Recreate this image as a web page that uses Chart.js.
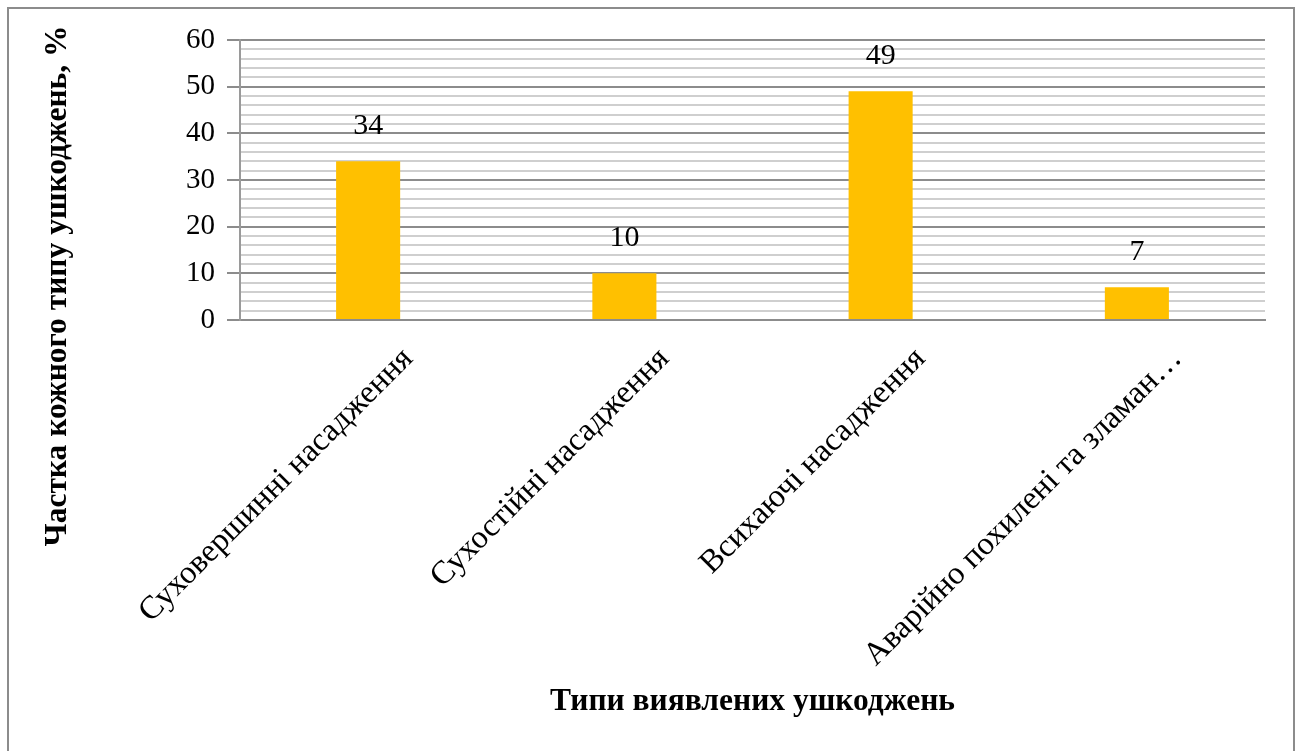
<!DOCTYPE html>
<html>
<head>
<meta charset="utf-8">
<script src="https://cdn.jsdelivr.net/npm/chart.js@4"></script>
<style>
  html, body { margin: 0; padding: 0; background: #fff; }
  #wrap { width: 1298px; height: 751px; }
</style>
</head>
<body>
<div id="wrap"><canvas id="myChart" width="1298" height="751"></canvas></div>
<script>
var categories = ['Суховершинні насадження', 'Сухостійні насадження', 'Всихаючі насадження', 'Аварійно похилені та зламан…'];
var values = [34, 10, 49, 7];
var yTicks = [0, 10, 20, 30, 40, 50, 60];
var yTitle = 'Частка кожного типу ушкоджень, %';

// frame round the whole picture + y title (placed like the original)
var framePlugin = {
  id: 'frame',
  afterDraw: function(chart) {
    var c = chart.ctx;
    c.save();
    c.strokeStyle = '#8c8c8c';
    c.lineWidth = 2;
    c.strokeRect(8, 8, 1286, 760);
    c.translate(58, 286);
    c.rotate(-Math.PI / 2);
    c.font = 'bold 31.5px "Liberation Serif"';
    c.fillStyle = '#000';
    c.textAlign = 'center';
    c.textBaseline = 'middle';
    c.fillText(yTitle, 0, 0);
    c.restore();
  }
};

// value labels above the bars
var valuePlugin = {
  id: 'values',
  afterDatasetsDraw: function(chart) {
    var c = chart.ctx;
    var meta = chart.getDatasetMeta(0);
    c.save();
    c.font = '30px "Liberation Serif"';
    c.fillStyle = '#000';
    c.textAlign = 'center';
    c.textBaseline = 'alphabetic';
    meta.data.forEach(function(bar, i) {
      c.fillText(values[i], bar.x, bar.y - 27);
    });
    c.restore();
  }
};

window.onload = function() {
  var ctx = document.getElementById('myChart').getContext('2d');
  var config = {
    type: 'bar',
    data: {
      labels: categories,
      datasets: [{
        data: values,
        backgroundColor: '#ffc000',
        barPercentage: 0.25,
        categoryPercentage: 1.0
      }]
    },
    options: {
      responsive: false,
      animation: false,
      layout: { padding: { left: 30, right: 33, top: 40, bottom: 30 } },
      plugins: {
        legend: { display: false },
        tooltip: { enabled: false }
      },
      scales: {
        x: {
          grid: { display: false, drawTicks: false },
          border: { color: '#8c8c8c', width: 2 },
          ticks: {
            autoSkip: false,
            minRotation: 45,
            maxRotation: 45,
            labelOffset: 40,
            padding: 20,
            color: '#000',
            font: { family: 'Liberation Serif', size: 32.5 }
          },
          title: {
            display: true,
            text: 'Типи виявлених ушкоджень',
            color: '#000',
            font: { family: 'Liberation Serif', size: 31.5, weight: 'bold' },
            padding: { top: 20, bottom: 0 }
          },
          afterFit: function(scale) { scale.height = 401; }
        },
        y: {
          min: 0,
          max: 60,
          border: { color: '#9a9a9a', width: 2 },
          grid: {
            tickLength: 13,
            lineWidth: 2,
            color: function(c) {
              return yTicks.indexOf(c.tick.value) >= 0 ? '#8c8c8c' : '#cfcfcf';
            },
            tickColor: function(c) {
              return yTicks.indexOf(c.tick.value) >= 0 ? '#8c8c8c' : 'rgba(0,0,0,0)';
            }
          },
          ticks: {
            stepSize: 2,
            autoSkip: false,
            padding: 12,
            color: '#000',
            font: { family: 'Liberation Serif', size: 29 },
            callback: function(v) {
              return yTicks.indexOf(v) >= 0 ? String(v) : '';
            }
          },
          afterFit: function(scale) { scale.width = 210; }
        }
      }
    },
    plugins: [framePlugin, valuePlugin]
  };
  var myChart = new Chart(ctx, config);
};
</script>
</body>
</html>
